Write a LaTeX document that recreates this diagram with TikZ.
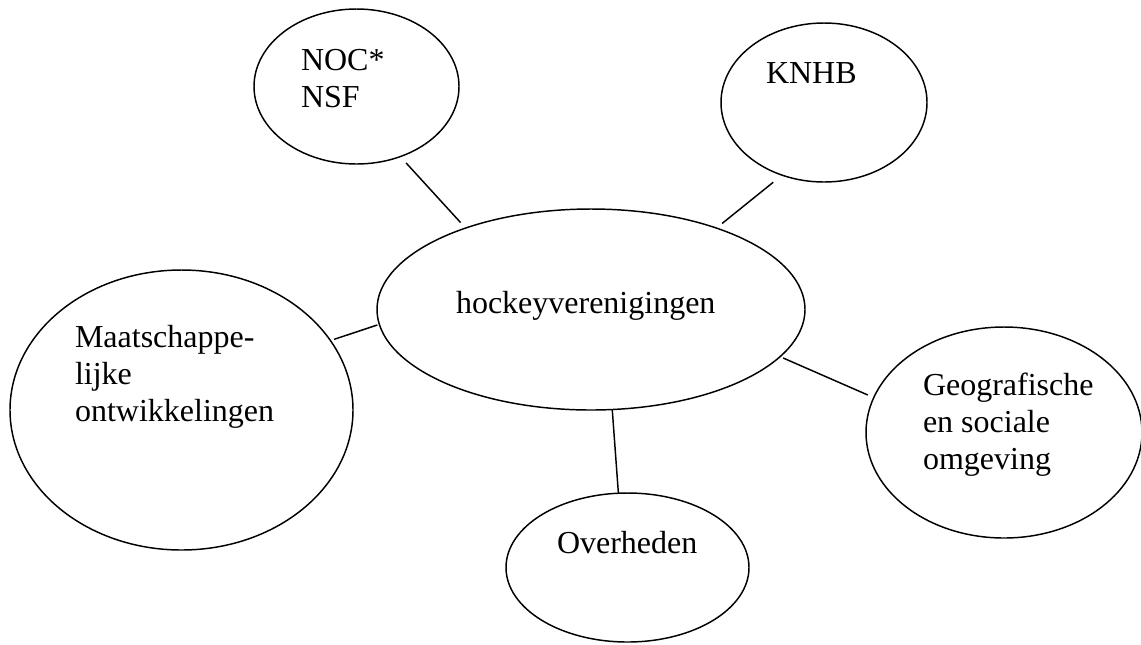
\documentclass[tikz,border=0pt]{standalone}
\usepackage{fontspec}
\setmainfont{Liberation Serif}
\usetikzlibrary{shapes.geometric}
\tikzset{
  bubble/.style={draw, ellipse, inner sep=0pt, outer sep=0pt, line width=1.1pt},
  lbl/.style={inner sep=0pt, outer sep=0pt, anchor=base west, font=\fontsize{24}{27.75}\selectfont},
  link/.style={line width=1.1pt}
}
\begin{document}
\begin{tikzpicture}[x=0.75pt, y=-0.75pt]
\useasboundingbox (0,0) rectangle (1141,644);
% ellipses
\node[bubble, minimum width=153.75pt, minimum height=116.25pt] (noc) at (356.5,86.5) {};
\node[bubble, minimum width=154.5pt, minimum height=119.25pt] (knhb) at (824,102.5) {};
\node[bubble, minimum width=321pt, minimum height=150.75pt] (hock) at (591,309.5) {};
\node[bubble, minimum width=257.25pt, minimum height=210pt] (maat) at (181.5,410) {};
\node[bubble, minimum width=207pt, minimum height=158.25pt] (geo) at (1004,432.5) {};
\node[bubble, minimum width=182.25pt, minimum height=111.75pt] (over) at (627.5,567.5) {};
% texts
\node[lbl] (noctxt) at (301,70) {\begin{tabular}[t]{@{}l@{}}NOC*\\NSF\end{tabular}};
\node[lbl] (knhbtxt) at (766,83) {KNHB};
\node[lbl] (hocktxt) at (456,313) {hockeyverenigingen};
\node[lbl] (maattxt) at (75,347) {\begin{tabular}[t]{@{}l@{}}Maatschappe-\\lijke\\ontwikkelingen\end{tabular}};
\node[lbl] (geotxt) at (923,395) {\begin{tabular}[t]{@{}l@{}}Geografische\\en sociale\\omgeving\end{tabular}};
\node[lbl] (overtxt) at (557,553) {Overheden};
% connectors
\draw[link, shorten <=6.45pt, shorten >=5.6pt] (noc.-58) -- (hock.147.5);
\draw[link, shorten <=8.5pt, shorten >=5.5pt] (knhb.-120.1) -- (hock.33.4);
\draw[link, shorten <=2.85pt, shorten >=1.6pt] (maat.25.7) -- (hock.184.6);
\draw[link, shorten <=2.55pt, shorten >=4.9pt] (hock.-14.36) -- (geo.165.9);
\draw[link] (hock.-78.6) -- (over.97.3);
\end{tikzpicture}
\end{document}
